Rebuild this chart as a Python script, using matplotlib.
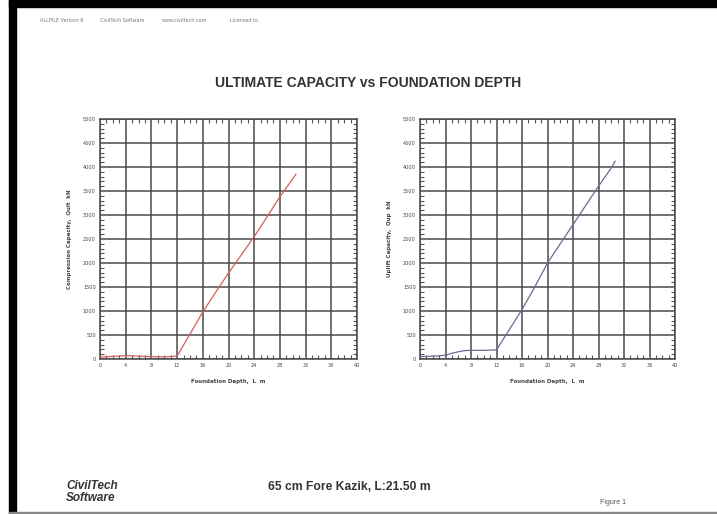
import matplotlib
matplotlib.use("Agg")
from matplotlib import pyplot as plt
from matplotlib.patches import Rectangle
from matplotlib.ticker import MultipleLocator

# compression capacity vs depth
depth_comp = [0, 2, 4, 6, 8, 10, 12, 13, 14, 15, 16, 18, 20, 22, 24, 26, 28, 30.5]
q_comp = [40, 55, 70, 60, 50, 45, 60, 290, 520, 750, 980, 1390, 1790, 2170, 2550, 2960, 3380, 3850]

# uplift capacity vs depth
depth_up = [0, 1, 2, 3, 4, 5, 6, 7, 8, 9, 10, 11, 12, 13, 14, 15, 16, 18, 20, 22, 24, 26, 28, 30, 30.6]
q_up = [50, 55, 60, 65, 80, 120, 150, 175, 180, 180, 180, 185, 190, 400, 610, 820, 1030,
        1500, 2000, 2400, 2800, 3200, 3600, 3980, 4120]

x_ticks = list(range(0, 41, 4))
y_ticks = list(range(0, 5001, 500))

W, H = 717, 514
fig = plt.figure(figsize=(W / 100, H / 100), dpi=100)
fig.patch.set_facecolor("white")


def px(x0, y0, x1, y1):
    # pixel box -> figure fraction rect
    return [x0 / W, 1 - y1 / H, (x1 - x0) / W, (y1 - y0) / H]


# page frame
fig.patches.append(Rectangle((9 / W, 1 - 7 / H), 1, 7 / H, transform=fig.transFigure,
                             color="black", zorder=0))
fig.patches.append(Rectangle((9 / W, 0), 7 / W, 1, transform=fig.transFigure,
                             color="black", zorder=0))
fig.patches.append(Rectangle((9 / W, 0), 1, 2.5 / H, transform=fig.transFigure,
                             color="#888888", zorder=0))


def setup(ax, ylabel):
    ax.set_xlim(0, 40)
    ax.set_ylim(0, 5000)
    ax.set_xticks(x_ticks)
    ax.set_yticks(y_ticks)
    ax.xaxis.set_minor_locator(MultipleLocator(1))
    ax.yaxis.set_minor_locator(MultipleLocator(100))
    ax.grid(True, which="major", color="#4a4a4a", lw=1.1)
    ax.tick_params(which="both", direction="in", top=True, right=True,
                   colors="#555555", labelsize=3.6, labelcolor="#444444", pad=3)
    ax.tick_params(which="major", length=0)
    ax.tick_params(which="minor", length=3, width=0.8)
    for s in ax.spines.values():
        s.set_color("#4a4a4a")
        s.set_linewidth(1.1)
    ax.set_xlabel("Foundation Depth,  L  m", fontsize=4, color="#444444",
                  fontweight="bold", labelpad=8)
    ax.set_ylabel(ylabel, fontsize=4, color="#444444", fontweight="bold", labelpad=8)


ax1 = fig.add_axes(px(100, 119, 357, 359))
setup(ax1, "Compression Capacity,  Qult  kN")
ax1.plot(depth_comp, q_comp, color="#d06060", lw=0.9, zorder=3)

ax2 = fig.add_axes(px(420, 119, 675, 359))
setup(ax2, "Uplift Capacity,  Qup  kN")
ax2.plot(depth_up, q_up, color="#6a6a9a", lw=0.9, zorder=3)

# header line
hdr = dict(fontsize=3.5, color="#777777", va="center", transform=fig.transFigure)
for x, s in [(40, "ALLPILE Version 6"), (100, "CivilTech Software"),
             (162, "www.civiltech.com"), (230, "Licensed to")]:
    fig.text(x / W, 1 - 20 / H, s, **hdr)

fig.text(368 / W, 1 - 83 / H, "ULTIMATE CAPACITY vs FOUNDATION DEPTH", ha="center",
         va="center", fontsize=10, fontweight="bold", color="#333333",
         family="Liberation Sans")

# footer
foot = dict(fontweight="bold", color="#333333", va="center", family="Liberation Sans")
fig.text(66 / W, 1 - 486 / H, "CivilTech", fontsize=8.5, style="italic", **foot)
fig.text(66 / W, 1 - 498 / H, "Software", fontsize=8.5, style="italic", **foot)
fig.text(268 / W, 1 - 487 / H, "65 cm Fore Kazik, L:21.50 m", fontsize=8.7, **foot)
fig.text(600 / W, 1 - 502 / H, "Figure 1", fontsize=5, color="#555555", va="center",
         family="Liberation Sans")

fig.savefig("out.png", dpi=100)
